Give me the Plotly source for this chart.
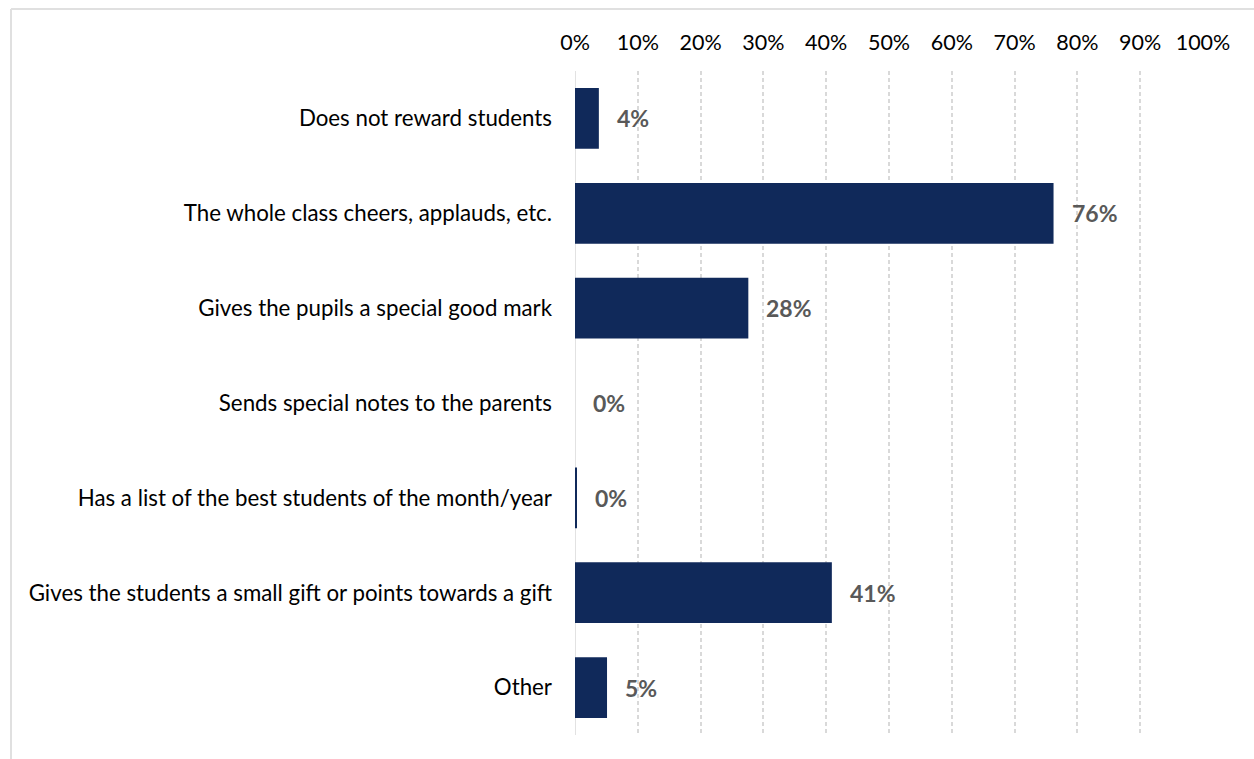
import plotly.graph_objects as go

categories = [
    "Does not reward students",
    "The whole class cheers, applauds, etc.",
    "Gives the pupils a special good mark",
    "Sends special notes to the parents",
    "Has a list of the best students of the month/year",
    "Gives the students a small gift or points towards a gift",
    "Other",
]
values = [3.8, 76.2, 27.6, 0.0, 0.3, 40.9, 5.1]
tick_vals = [0, 10, 20, 30, 40, 50, 60, 70, 80, 90, 100]
tick_text = [f"{v}%" for v in tick_vals]

BAR = "#10295a"
LABEL = "#595959"
GRID = "#d9d9d9"
FRAME = "#e0e0e0"
FONT = "Lato"

fig = go.Figure()
fig.add_trace(go.Bar(
    x=values,
    y=categories,
    orientation="h",
    marker=dict(color=BAR, line=dict(width=0)),
    width=0.64,
    hoverinfo="skip",
))

# value labels to the right of each bar
for cat, val in zip(categories, values):
    fig.add_annotation(
        x=val, y=cat, xref="x", yref="y",
        text=f"<b>{val:.0f}%</b>",
        showarrow=False, xanchor="left", yanchor="middle",
        xshift=16,
        font=dict(family=FONT, size=23, color=LABEL),
    )

# frame around the chart area (top and left edges visible)
frame_top = 1 + (71 - 9) / 664
frame_left = (11 - 575) / 628

fig.update_layout(
    width=1254, height=759,
    margin=dict(l=575, r=51, t=71, b=24),
    paper_bgcolor="white", plot_bgcolor="white",
    showlegend=False,
    font=dict(family=FONT, size=22, color="#000000"),
    xaxis=dict(
        side="top",
        range=[0, 100],
        tickvals=tick_vals, ticktext=tick_text,
        showgrid=True, gridcolor=GRID, gridwidth=1.5, griddash="4px,3px",
        zeroline=False, showline=False,
        ticks="outside", ticklen=11, tickcolor="rgba(0,0,0,0)",
        tickfont=dict(family=FONT, size=21.5, color="#000000"),
        fixedrange=True,
    ),
    yaxis=dict(
        categoryorder="array", categoryarray=categories,
        autorange="reversed",
        showgrid=False, zeroline=False,
        showline=False,
        ticks="", ticklabelstandoff=22,
        tickfont=dict(family=FONT, size=22.3, color="#000000"),
        fixedrange=True,
    ),
    shapes=[
        # solid baseline at 0%
        dict(type="line", xref="x", yref="paper", x0=0, x1=0, y0=0, y1=1,
             line=dict(color=GRID, width=1.5), layer="below"),
        dict(type="line", xref="paper", yref="paper",
             x0=frame_left, x1=1.2, y0=frame_top, y1=frame_top,
             line=dict(color=FRAME, width=2)),
        dict(type="line", xref="paper", yref="paper",
             x0=frame_left, x1=frame_left, y0=-0.1, y1=frame_top,
             line=dict(color=FRAME, width=2)),
    ],
)

fig.write_html("out.html")
